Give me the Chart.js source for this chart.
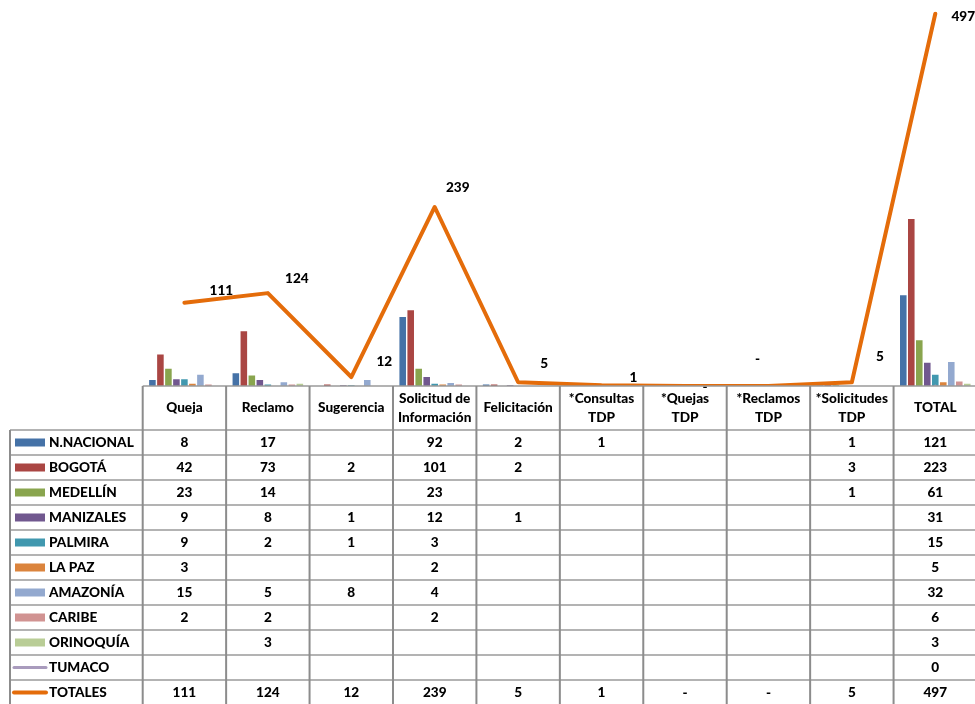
<!DOCTYPE html>
<html>
<head>
<meta charset="utf-8">
<script src="https://cdn.jsdelivr.net/npm/chart.js@4.4.1/dist/chart.umd.min.js"></script>
<style>
  html, body { margin: 0; padding: 0; background: #fff; overflow: hidden; }
  #wrap { position: relative; width: 980px; height: 704px; }
</style>
</head>
<body>
<div id="wrap"><canvas id="chart"></canvas></div>
<script>
// categorias (columnas de la tabla)
const categories = [
  ['Queja'], ['Reclamo'], ['Sugerencia'], ['Solicitud de', 'Información'], ['Felicitación'],
  ['*Consultas', 'TDP'], ['*Quejas', 'TDP'], ['*Reclamos', 'TDP'], ['*Solicitudes', 'TDP'], ['TOTAL']
];

// series por sede (null = celda vacia)
const nNacional = [8, 17, null, 92, 2, 1, null, null, 1, 121];
const bogota    = [42, 73, 2, 101, 2, null, null, null, 3, 223];
const medellin  = [23, 14, null, 23, null, null, null, null, 1, 61];
const manizales = [9, 8, 1, 12, 1, null, null, null, null, 31];
const palmira   = [9, 2, 1, 3, null, null, null, null, null, 15];
const laPaz     = [3, null, null, 2, null, null, null, null, null, 5];
const amazonia  = [15, 5, 8, 4, null, null, null, null, null, 32];
const caribe    = [2, 2, null, 2, null, null, null, null, null, 6];
const orinoquia = [null, 3, null, null, null, null, null, null, null, 3];
const tumaco    = [null, null, null, null, null, null, null, null, null, 0];
const totales   = [111, 124, 12, 239, 5, 1, 0, 0, 5, 497];

const yMax = 500;

const barSeries = [
  { label: 'N.NACIONAL', data: nNacional, color: '#4572A7' },
  { label: 'BOGOTÁ', data: bogota, color: '#AA4643' },
  { label: 'MEDELLÍN', data: medellin, color: '#89A54E' },
  { label: 'MANIZALES', data: manizales, color: '#71588F' },
  { label: 'PALMIRA', data: palmira, color: '#4198AF' },
  { label: 'LA PAZ', data: laPaz, color: '#DB843D' },
  { label: 'AMAZONÍA', data: amazonia, color: '#93A9CF' },
  { label: 'CARIBE', data: caribe, color: '#D19392' },
  { label: 'ORINOQUÍA', data: orinoquia, color: '#B9CD96' }
];
const lineSeries = [
  { label: 'TUMACO', data: tumaco, color: '#A99BBD', width: 3 },
  { label: 'TOTALES', data: totales, color: '#E46C0A', width: 4 }
];

const FONT = '900 13.6px Lato, "Open Sans", sans-serif';

// etiquetas de la linea TOTALES, desplazadas como en el original
const labelShift = [[37, -12], [29, -15], [33, -15], [23, -19], [26, -19], [32, -8], [20, 1], [-11, -27], [28, -26], [28, 3]];

const lineLabels = {
  id: 'lineLabels',
  afterDatasetsDraw(chart) {
    const ctx = chart.ctx;
    const idx = chart.data.datasets.length - 1;
    const meta = chart.getDatasetMeta(idx);
    ctx.save();
    ctx.font = FONT;
    ctx.fillStyle = '#000';
    ctx.textAlign = 'center';
    ctx.textBaseline = 'middle';
    meta.data.forEach((pt, i) => {
      const v = totales[i];
      const txt = v === 0 ? '-' : String(v);
      ctx.fillText(txt, pt.x + labelShift[i][0], pt.y + labelShift[i][1]);
    });
    ctx.restore();
  }
};

// tabla de datos debajo de la grafica
const dataTable = {
  id: 'dataTable',
  afterDraw(chart) {
    const ctx = chart.ctx;
    const area = chart.chartArea;
    const n = categories.length;
    const colW = (area.right - area.left) / n;
    const top = area.bottom;
    const headH = 44;
    const rowH = 25;
    const rows = barSeries.map(s => ({ ...s, kind: 'bar' }))
      .concat(lineSeries.map(s => ({ ...s, kind: 'line' })));
    const bottom = top + headH + rows.length * rowH;
    const leftX = 10;

    ctx.save();
    ctx.strokeStyle = '#9a9a9a';
    ctx.lineWidth = 1.5;
    // lineas horizontales
    ctx.beginPath();
    ctx.moveTo(area.left, top);
    ctx.lineTo(area.right, top);
    for (let r = 0; r <= rows.length; r++) {
      const y = top + headH + r * rowH;
      ctx.moveTo(leftX, y);
      ctx.lineTo(area.right, y);
    }
    ctx.stroke();
    // lineas verticales
    ctx.strokeStyle = '#8c8c8c';
    ctx.lineWidth = 2;
    ctx.beginPath();
    ctx.moveTo(leftX, top + headH);
    ctx.lineTo(leftX, bottom);
    for (let i = 0; i <= n; i++) {
      const x = area.left + i * colW;
      ctx.moveTo(x, top);
      ctx.lineTo(x, bottom);
    }
    ctx.stroke();

    ctx.font = FONT;
    ctx.fillStyle = '#000';
    ctx.textAlign = 'center';
    ctx.textBaseline = 'middle';
    // encabezados
    categories.forEach((lines, i) => {
      const cx = area.left + (i + 0.5) * colW;
      const cy = top + headH / 2;
      const lh = 19;
      lines.forEach((t, k) => {
        ctx.fillText(t, cx, cy + (k - (lines.length - 1) / 2) * lh);
      });
    });

    // filas
    rows.forEach((s, r) => {
      const cy = top + headH + r * rowH + rowH / 2;
      if (s.kind === 'bar') {
        ctx.fillStyle = s.color;
        ctx.fillRect(15, cy - 4, 30, 8);
      } else {
        ctx.strokeStyle = s.color;
        ctx.lineWidth = s.width;
        ctx.lineCap = 'round';
        ctx.beginPath();
        ctx.moveTo(14, cy);
        ctx.lineTo(46, cy);
        ctx.stroke();
      }
      ctx.fillStyle = '#000';
      ctx.textAlign = 'left';
      ctx.fillText(s.label, 49, cy);
      ctx.textAlign = 'center';
      s.data.forEach((v, i) => {
        if (v === null) return;
        let txt = String(v);
        if (s.label === 'TOTALES' && v === 0) txt = '-';
        ctx.fillText(txt, area.left + (i + 0.5) * colW, cy);
      });
    });
    ctx.restore();
  }
};

const datasets = [];
barSeries.forEach(s => {
  datasets.push({
    type: 'bar',
    label: s.label,
    data: s.data,
    backgroundColor: s.color,
    borderWidth: 0,
    barPercentage: 0.82,
    categoryPercentage: 0.863,
    order: 2
  });
});
lineSeries.forEach(s => {
  datasets.push({
    type: 'line',
    label: s.label,
    data: s.data,
    borderColor: s.color,
    backgroundColor: s.color,
    borderWidth: s.width,
    pointRadius: 0,
    tension: 0,
    borderJoinStyle: 'round',
    borderCapStyle: 'round',
    spanGaps: false,
    order: 1
  });
});

new Chart(document.getElementById('chart'), {
  type: 'bar',
  data: {
    labels: categories.map(c => c.join(' ')),
    datasets: datasets
  },
  options: {
    responsive: true,
    maintainAspectRatio: false,
    animation: false,
    devicePixelRatio: 1,
    layout: { padding: { left: 142.7, right: 3, top: 11.5, bottom: 318 } },
    plugins: {
      legend: { display: false },
      tooltip: { enabled: false }
    },
    scales: {
      x: { display: false, offset: true },
      y: { display: false, min: 0, max: yMax }
    }
  },
  plugins: [lineLabels, dataTable]
});
</script>
</body>
</html>
